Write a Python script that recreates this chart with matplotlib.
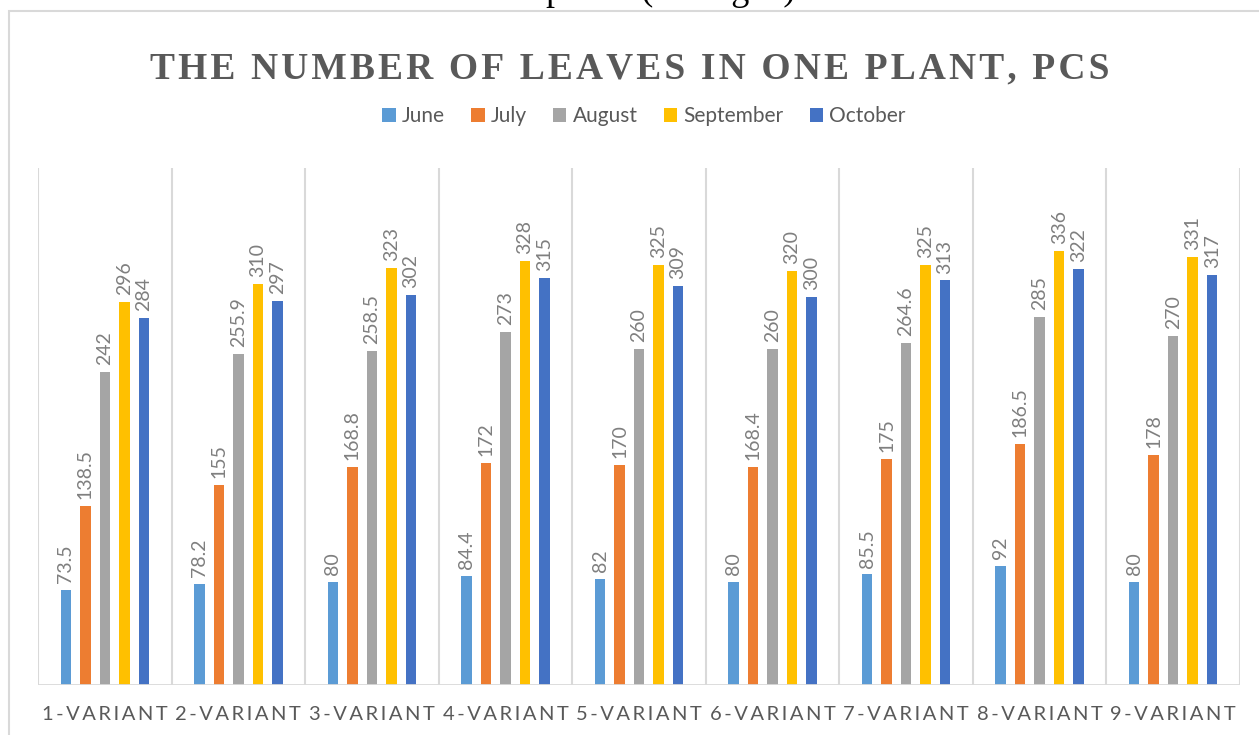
import matplotlib
matplotlib.use('Agg')
import numpy as np
import matplotlib.pyplot as plt
from matplotlib.patches import Rectangle

categories = ['1-VARIANT', '2-VARIANT', '3-VARIANT', '4-VARIANT', '5-VARIANT',
              '6-VARIANT', '7-VARIANT', '8-VARIANT', '9-VARIANT']
months = ['June', 'July', 'August', 'September', 'October']
june = [73.5, 78.2, 80, 84.4, 82, 80, 85.5, 92, 80]
july = [138.5, 155, 168.8, 172, 170, 168.4, 175, 186.5, 178]
august = [242, 255.9, 258.5, 273, 260, 260, 264.6, 285, 270]
september = [296, 310, 323, 328, 325, 320, 325, 336, 331]
october = [284, 297, 302, 315, 309, 300, 313, 322, 317]
series = [june, july, august, september, october]
colors = ['#5B9BD5', '#ED7D31', '#A5A5A5', '#FFC000', '#4472C4']

TXT = '#595959'
GRID = '#D9D9D9'

def spaced(s, sp='\u2009'):
	return sp.join(list(s))

fig = plt.figure(figsize=(12.59, 7.35), dpi=100)

# chart border (cut off at right/bottom like the reference)
fig.patches.append(Rectangle((9/1259, -0.05), 1.1, 1 - 11/735 + 0.05, transform=fig.transFigure,
	fill=False, edgecolor=GRID, linewidth=1.5))

# cut-off caption from the document above
fig.text(546/1259, 1.0, 'plants (averaged)', fontsize=26, family=['Liberation Serif', 'DejaVu Serif'],
	color='black', va='baseline', ha='left')

ax = fig.add_axes([38/1259, 1 - 685/735, (1240 - 38)/1259, (685 - 168)/735])
n = len(categories)
x = np.arange(n)
step = 0.146
width = 0.079
for i, (vals, col, name) in enumerate(zip(series, colors, months)):
	pos = x + (i - 2) * step
	ax.bar(pos, vals, width=width, color=col, label=name, zorder=3)
	for px, v in zip(pos, vals):
		lab = ('%g' % v)
		ax.annotate(lab, (px, v), xytext=(0, 5), textcoords='offset points', rotation=90,
			ha='center', va='bottom', fontsize=14, color='#7F7F7F', family='Lato')

ax.set_xlim(-0.5, n - 0.5)
ax.set_ylim(0, 400)
for b in np.arange(-0.5, n, 1.0):
	ax.axvline(b, color=GRID, linewidth=1.5, zorder=1)
for s in ax.spines.values():
	s.set_visible(False)
ax.axhline(0, color=GRID, linewidth=2, zorder=4)
ax.set_yticks([])
ax.set_xticks(x)
ax.set_xticklabels([spaced(c) for c in categories], family=['Lato', 'DejaVu Sans'], fontsize=14.5, color=TXT)
ax.tick_params(axis='x', length=0, pad=15)

fig.text(0.5, 1 - 78/735, spaced('THE NUMBER OF LEAVES IN ONE PLANT, PCS', '\u200A'), ha='center', va='baseline',
	fontsize=27, fontweight='bold', color=TXT, family=['Liberation Serif', 'DejaVu Serif'])

leg = fig.legend(loc='center', bbox_to_anchor=(644/1259, 1 - 116/735), ncol=5, frameon=False,
	prop={'family': 'Lato', 'size': 15}, handlelength=0.65, handleheight=0.65, handletextpad=0.3,
	columnspacing=1.25)
for t in leg.get_texts():
	t.set_color(TXT)

fig.savefig('out.png', dpi=100)
